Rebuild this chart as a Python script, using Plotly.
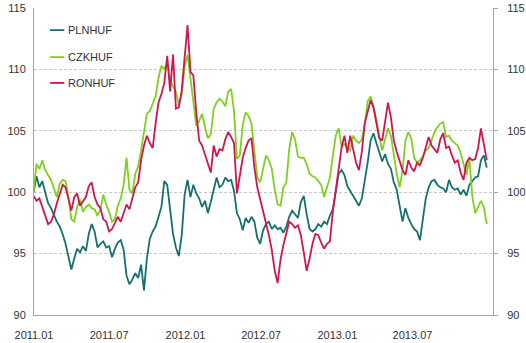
import pandas as pd
import plotly.graph_objects as go

# Weekly observations, index = 100 at the start of 2011
dates = pd.date_range("2010-12-31", periods=157, freq="7D")

pln_huf = [
    100.0, 101.3, 100.4, 100.9, 100.0, 99.1, 98.7, 98.1, 97.6, 97.2,
    96.6, 95.8, 94.8, 93.7, 94.6, 95.4, 95.1, 95.6, 95.2, 96.6,
    97.4, 96.8, 95.5, 95.8, 96.0, 95.5, 95.6, 94.7, 95.4, 95.9,
    96.1, 95.3, 93.2, 92.5, 92.9, 93.4, 93.0, 94.1, 92.0, 94.6,
    96.2, 96.8, 97.2, 98.1, 98.8, 100.9, 100.6, 98.6, 96.6, 95.5,
    94.8, 96.5, 99.8, 101.0, 99.6, 100.6, 99.9, 99.5, 98.8, 99.3,
    98.3, 99.2, 100.3, 101.2, 100.4, 100.6, 101.2, 100.9, 101.0, 100.1,
    98.3, 97.8, 96.9, 97.9, 97.5, 98.0, 97.6, 96.3, 95.8, 96.9,
    97.4, 97.6, 97.0, 97.3, 97.0, 97.1, 96.7, 97.2, 98.0, 98.5,
    98.2, 97.9, 99.2, 99.7, 98.2, 97.0, 96.8, 97.0, 97.4, 97.2,
    97.6, 97.4, 98.1, 98.6, 100.0, 101.5, 101.8, 101.4, 100.5, 100.1,
    99.8, 99.3, 98.9, 99.5, 100.8, 102.4, 104.2, 104.8, 104.0, 103.2,
    102.5, 103.1, 102.3, 101.9, 100.8, 100.2, 99.0, 97.6, 98.7, 97.9,
    97.4, 97.0, 96.8, 96.1, 97.8, 99.5, 100.4, 100.9, 101.0, 100.6,
    100.4, 100.3, 100.0, 101.0, 100.4, 100.2, 100.3, 99.8, 100.2, 99.7,
    100.6, 100.9, 101.2, 101.3, 102.6, 103.0, 102.0,
]

czk_huf = [
    100.0, 102.3, 101.9, 102.6, 101.8, 101.4, 101.0, 100.3, 99.6, 100.7,
    101.0, 100.9, 99.6, 97.8, 97.6, 98.8, 99.4, 98.4, 98.8, 99.0,
    98.7, 98.6, 98.1, 98.6, 99.8, 99.0, 98.4, 97.6, 97.8, 98.9,
    99.5, 100.6, 102.8, 100.2, 99.9, 101.5, 102.1, 103.4, 104.8, 106.4,
    106.6, 107.2, 107.8, 109.3, 110.3, 110.0, 110.6, 109.2, 108.6, 108.2,
    107.1, 108.0, 110.2, 111.2, 109.3, 107.0, 105.4, 105.8, 106.4, 105.3,
    104.4, 104.7, 106.8, 107.3, 107.6, 107.4, 107.0, 108.2, 108.4, 106.6,
    102.7, 103.0, 105.5, 106.5, 106.2, 105.6, 103.4, 101.2, 100.8, 101.9,
    103.0, 102.6, 101.9, 100.2, 99.0, 98.9, 100.4, 100.8, 103.5, 104.9,
    104.3, 102.9, 102.8, 102.8, 102.3, 101.5, 101.3, 101.2, 100.9, 100.6,
    99.6, 100.4, 101.2, 102.9, 104.6, 105.2, 103.8, 103.9, 103.6, 103.4,
    104.6, 104.2, 104.0, 104.3, 105.6, 107.4, 107.8, 107.0, 105.9, 104.5,
    103.4, 104.3, 105.2, 104.6, 103.0, 101.5, 100.4, 101.8, 104.2, 104.9,
    104.4, 102.8, 102.4, 102.6, 102.9, 103.4, 103.6, 104.2, 104.9, 105.3,
    105.6, 105.7, 104.5, 104.6, 104.2, 104.0, 103.8, 103.2, 102.2, 101.4,
    102.8, 99.7, 98.3, 98.8, 99.3, 98.8, 97.4,
]

ron_huf = [
    99.7, 99.3, 99.5, 98.8, 98.2, 97.4, 97.6, 98.2, 99.1, 99.8,
    100.6, 100.4, 99.5, 98.5, 99.6, 99.9, 98.9, 99.3, 99.6, 100.5,
    100.8, 99.6, 99.0, 98.7, 97.8, 97.6, 96.8, 97.0, 97.5, 98.0,
    97.6, 98.4, 99.0, 98.6, 99.5, 100.4, 100.8, 102.6, 103.8, 104.6,
    104.0, 103.6, 105.6, 107.3, 108.0, 108.9, 111.1, 108.2, 111.2, 106.8,
    106.9, 108.3, 111.0, 113.6, 109.8, 109.5, 106.5, 104.2, 103.8, 103.0,
    102.2, 101.6, 103.8, 102.9, 103.5, 103.4, 104.3, 104.9, 104.5, 104.0,
    99.9, 101.2, 102.8, 103.6, 104.2, 104.4, 102.0, 100.4, 99.4, 98.6,
    97.6, 96.5, 95.3, 93.6, 92.6, 94.5, 95.7, 96.6, 97.6, 97.4,
    97.1, 97.3, 96.5, 95.1, 93.6, 94.6, 95.8, 96.6, 96.5, 95.9,
    95.4, 95.8, 96.0, 98.4, 100.0, 101.8, 103.6, 104.6, 103.2, 104.6,
    103.5, 102.4, 101.8, 103.3, 105.6, 106.6, 107.5, 106.9, 105.6, 104.4,
    104.2, 105.8, 107.3, 106.1, 104.2, 103.3, 102.6, 101.8, 101.4, 102.6,
    102.0, 101.7, 102.4, 102.2, 102.8, 103.6, 104.5, 103.8, 103.5, 103.2,
    104.3, 104.8, 103.6, 103.7, 103.0, 102.4, 102.6, 101.6, 101.0, 102.4,
    102.8, 102.6, 102.7, 103.6, 105.2, 103.8, 102.6,
]

series = [
    ("PLNHUF", pln_huf, "#15706f"),
    ("CZKHUF", czk_huf, "#80d020"),
    ("RONHUF", ron_huf, "#d0164e"),
]

tick_dates = ["2011-01-01", "2011-07-01", "2012-01-01",
              "2012-07-01", "2013-01-01", "2013-07-01"]
y_ticks = [90, 95, 100, 105, 110, 115]

fig = go.Figure()
for name, vals, color in series:
    fig.add_trace(go.Scatter(
        x=dates, y=vals, name=name, mode="lines",
        line=dict(color=color, width=1.8), showlegend=False,
    ))

# empty trace that carries the mirrored right-hand axis
fig.add_trace(go.Scatter(x=[dates[0]], y=[None], yaxis="y2",
                         showlegend=False, hoverinfo="skip"))

axis_color = "#a6a6a6"
tick_font = dict(family="Liberation Sans, Arial, sans-serif", size=11, color="#333333")

fig.update_layout(
    width=526, height=343,
    margin=dict(l=34, r=33, t=8, b=28, autoexpand=False),
    paper_bgcolor="white", plot_bgcolor="white",
    xaxis=dict(
        type="date", range=["2011-01-01", "2014-01-11"],
        tickvals=tick_dates, tickformat="%Y.%m",
        showgrid=False, zeroline=False,
        showline=True, linecolor=axis_color, linewidth=1,
        ticks="", tickfont=tick_font, ticklabelstandoff=10,
    ),
    yaxis=dict(
        range=[90, 115], tickvals=y_ticks,
        showgrid=True, gridcolor="#c8c8c8", griddash="3px,2px", gridwidth=1,
        zeroline=False, showline=True, linecolor=axis_color, linewidth=1,
        ticks="", tickfont=tick_font, ticklabelstandoff=5,
    ),
    yaxis2=dict(
        range=[90, 115], tickvals=y_ticks, overlaying="y", side="right",
        showgrid=False, zeroline=False,
        showline=True, linecolor=axis_color, linewidth=1,
        ticks="outside", ticklen=4, tickcolor=axis_color,
        tickfont=tick_font, ticklabelstandoff=7,
    ),
)

# legend drawn as short line keys with labels in the upper-left corner
legend_rows = [0.928, 0.840, 0.756]
for (name, _, color), yrow in zip(series, legend_rows):
    fig.add_shape(type="line", xref="paper", yref="paper",
                  x0=0.035, x1=0.066, y0=yrow, y1=yrow,
                  line=dict(color=color, width=1.8))
    fig.add_annotation(xref="paper", yref="paper", x=0.069, y=yrow,
                       text=name, showarrow=False, xanchor="left", yanchor="middle",
                       font=dict(family="Liberation Sans, Arial, sans-serif",
                                 size=11, color="#333333"))

fig.write_html("out.html")
